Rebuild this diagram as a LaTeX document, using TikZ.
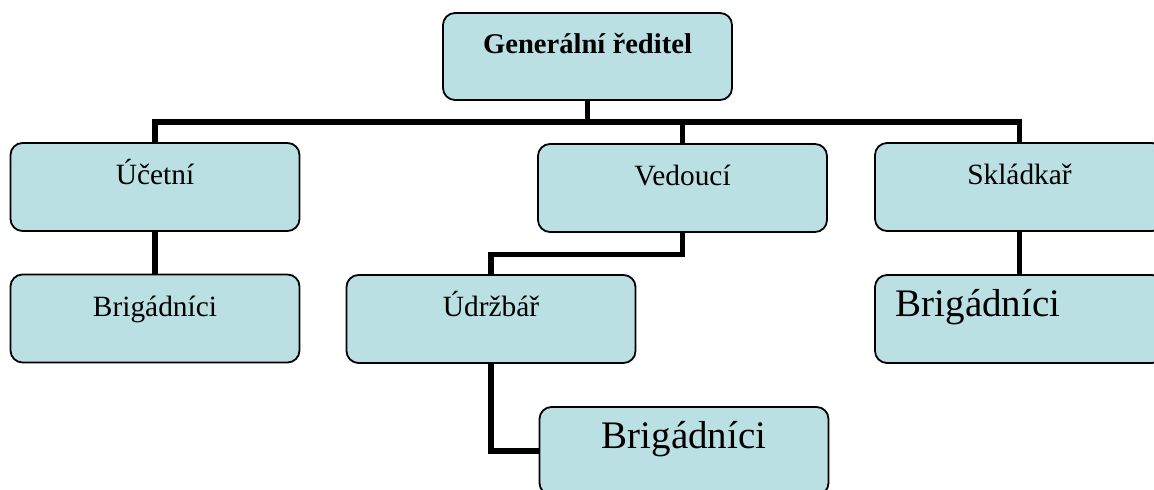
\documentclass[tikz,border=0pt]{standalone}
\usepackage{fontspec}
\setmainfont{Liberation Serif}
\usepackage{xcolor}

\definecolor{boxblue}{RGB}{186,224,227}

\tikzset{
  box/.style={draw=black, line width=0.9pt, fill=boxblue, rounded corners=6pt,
    inner sep=0pt, minimum width=144.5pt, text height=21pt, text depth=23pt,
    font=\fontsize{14.7}{16}\selectfont},
  bigbox/.style={box, font=\fontsize{19.5}{22}\selectfont},
  conn/.style={line width=2.8pt},
}

\begin{document}
\begin{tikzpicture}[x=0.5pt,y=-0.5pt]
  \clip (0,0) rectangle (1154,490);

  %箱
  \node[box, text height=20.5pt, font=\fontsize{14.3}{16}\selectfont\bfseries] (gen) at (587.5,56.5) {Generální ředitel};
  \node[box] (ucetni) at (155,187) {Účetní};
  \node[box] (vedouci) at (682.5,188) {Vedoucí};
  \node[box] (skladkar) at (1019.5,187) {Skládkař};
  \node[box] (brigA) at (155,318.5) {Brigádníci};
  \node[box] (udrzbar) at (491,319) {Údržbář};
  \node[bigbox] (brigC) at (1019.5,319) {Brigádníci\hspace*{41.5pt}};
  \node[bigbox] (brigB) at (684,451) {Brigádníci};

  %線
  \coordinate (bus) at (0,122);
  \draw[conn] (gen.south) -- (gen.south |- bus);
  \draw[conn] (ucetni.north) |- (skladkar.north |- bus) -- (skladkar.north);
  \draw[conn] (vedouci.north) -- (vedouci.north |- bus);
  \draw[conn] (ucetni.south) -- (brigA.north);
  \draw[conn] (skladkar.south) -- (brigC.north);
  \draw[conn] (vedouci.south) -- ++(0,21.5) -| (udrzbar.north);
  \draw[conn] (udrzbar.south) |- (brigB.west);
\end{tikzpicture}
\end{document}
